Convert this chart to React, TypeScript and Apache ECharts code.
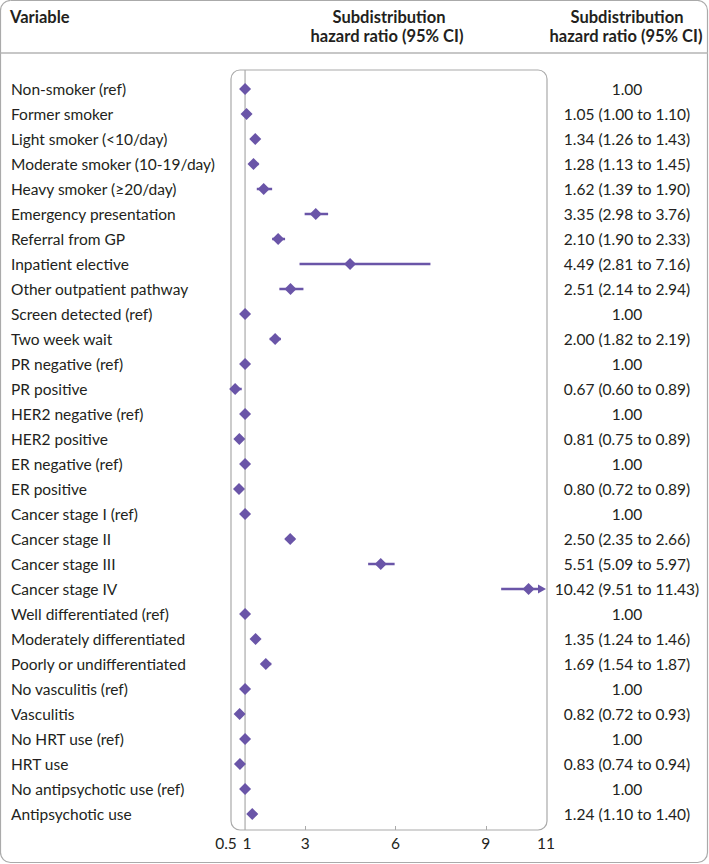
import React, { useEffect, useRef } from "react";
import * as echarts from "echarts";

const variables = [
  "Non-smoker (ref)",
  "Former smoker",
  "Light smoker (<10/day)",
  "Moderate smoker (10-19/day)",
  "Heavy smoker (≥20/day)",
  "Emergency presentation",
  "Referral from GP",
  "Inpatient elective",
  "Other outpatient pathway",
  "Screen detected (ref)",
  "Two week wait",
  "PR negative (ref)",
  "PR positive",
  "HER2 negative (ref)",
  "HER2 positive",
  "ER negative (ref)",
  "ER positive",
  "Cancer stage I (ref)",
  "Cancer stage II",
  "Cancer stage III",
  "Cancer stage IV",
  "Well differentiated (ref)",
  "Moderately differentiated",
  "Poorly or undifferentiated",
  "No vasculitis (ref)",
  "Vasculitis",
  "No HRT use (ref)",
  "HRT use",
  "No antipsychotic use (ref)",
  "Antipsychotic use",
];

const hazardRatio = [
  1.0, 1.05, 1.34, 1.28, 1.62, 3.35, 2.1, 4.49, 2.51, 1.0, 2.0, 1.0, 0.67, 1.0, 0.81, 1.0, 0.8, 1.0, 2.5, 5.51,
  10.42, 1.0, 1.35, 1.69, 1.0, 0.82, 1.0, 0.83, 1.0, 1.24,
];
const lowerCI: (number | null)[] = [
  null, 1.0, 1.26, 1.13, 1.39, 2.98, 1.9, 2.81, 2.14, null, 1.82, null, 0.6, null, 0.75, null, 0.72, null, 2.35,
  5.09, 9.51, null, 1.24, 1.54, null, 0.72, null, 0.74, null, 1.1,
];
const upperCI: (number | null)[] = [
  null, 1.1, 1.43, 1.45, 1.9, 3.76, 2.33, 7.16, 2.94, null, 2.19, null, 0.89, null, 0.89, null, 0.89, null, 2.66,
  5.97, 11.43, null, 1.46, 1.87, null, 0.93, null, 0.94, null, 1.4,
];

const xTickLabels = [0.5, 1, 3, 6, 9, 11];
const xTickMarks = [3, 6, 9];

const fmt = (v: number) => v.toFixed(2);

export default function App() {
  const ref = useRef<HTMLDivElement>(null);
  useEffect(() => {
    if (!ref.current) return;
    const chart = echarts.init(ref.current, null, { renderer: "svg" });
    const PURPLE = "#6a55a8";
    const TEXT = "#231f20";
    const FONT = "Lato";
    const BODY = 15.5;
    const HEAD = 16.5;
    const XMIN = 0.5;
    const XMAX = 11;

    const rightText = hazardRatio.map((h, i) =>
      lowerCI[i] == null ? fmt(h) : `${fmt(h)} (${fmt(lowerCI[i] as number)} to ${fmt(upperCI[i] as number)})`
    );

    const ciData = variables
      .map((_, i) => (lowerCI[i] == null ? null : [lowerCI[i], upperCI[i], i]))
      .filter((d) => d != null);

    const headStyle = (text: string, align: string) => ({
      text,
      font: `bold ${HEAD}px ${FONT}`,
      fill: TEXT,
      textAlign: align,
      textVerticalAlign: "middle",
    });

    const option: any = {
      animation: false,
      grid: { left: 230, right: 163, top: 76.5, bottom: 37.5, containLabel: false },
      xAxis: {
        type: "value",
        min: XMIN,
        max: XMAX,
        offset: 3.5,
        splitLine: { show: false },
        axisLine: { show: false },
        axisTick: {
          show: true,
          customValues: xTickMarks,
          inside: true,
          length: 4,
          lineStyle: { color: "#aaaaaa", width: 1 },
        },
        axisLabel: {
          customValues: xTickLabels,
          showMinLabel: true,
          showMaxLabel: true,
          hideOverlap: false,
          fontSize: BODY,
          fontFamily: FONT,
          color: TEXT,
          margin: 5,
          formatter: (v: number) => (v === 0.5 ? "{l|0.5}" : v === 1 ? "{r|1}" : String(v)),
          rich: {
            l: { fontSize: BODY, fontFamily: FONT, color: TEXT, padding: [0, 8, 0, 0] },
            r: { fontSize: BODY, fontFamily: FONT, color: TEXT, padding: [0, 0, 0, 4] },
          },
        },
      },
      yAxis: [
        {
          type: "category",
          data: variables,
          inverse: true,
          position: "left",
          axisLine: { show: false },
          axisTick: { show: false },
          splitLine: { show: false },
          axisLabel: {
            interval: 0,
            align: "left",
            margin: 219,
            fontSize: BODY,
            fontFamily: FONT,
            color: TEXT,
          },
        },
        {
          type: "category",
          data: rightText,
          inverse: true,
          position: "right",
          axisLine: { show: false },
          axisTick: { show: false },
          splitLine: { show: false },
          axisLabel: {
            interval: 0,
            align: "center",
            margin: 81,
            fontSize: BODY,
            fontFamily: FONT,
            color: TEXT,
          },
        },
      ],
      graphic: [
        {
          type: "rect",
          shape: { x: 0.5, y: 0.5, width: 707, height: 862, r: 10 },
          style: { fill: "none", stroke: "#aaaaaa", lineWidth: 1.2 },
          silent: true,
        },
        {
          type: "line",
          shape: { x1: 0.5, y1: 53, x2: 708, y2: 53 },
          style: { stroke: "#b5b5b5", lineWidth: 1.5 },
          silent: true,
        },
        {
          type: "rect",
          shape: { x: 231, y: 70, width: 316, height: 760, r: 9 },
          style: { fill: "none", stroke: "#aaaaaa", lineWidth: 1.2 },
          silent: true,
        },
        { type: "text", x: 10, y: 17, style: headStyle("Variable", "left") },
        { type: "text", x: 389, y: 17, style: headStyle("Subdistribution", "center") },
        { type: "text", x: 387, y: 36, style: headStyle("hazard ratio (95% CI)", "center") },
        { type: "text", x: 627, y: 17, style: headStyle("Subdistribution", "center") },
        { type: "text", x: 626, y: 36, style: headStyle("hazard ratio (95% CI)", "center") },
      ],
      series: [
        {
          type: "custom",
          name: "CI",
          z: 2,
          clip: false,
          data: ciData,
          renderItem: (params: any, api: any) => {
            const lo = Math.max(api.value(0), XMIN);
            const hiRaw = api.value(1);
            const hi = Math.min(hiRaw, XMAX);
            const row = api.value(2);
            const p1 = api.coord([lo, row]);
            const p2 = api.coord([hi, row]);
            const children: any[] = [];
            const clipped = hiRaw > XMAX;
            const lineEnd = clipped ? p2[0] - 5 : p2[0];
            children.push({
              type: "line",
              shape: { x1: p1[0], y1: p1[1], x2: lineEnd, y2: p2[1] },
              style: { stroke: PURPLE, lineWidth: 2.5 },
            });
            if (clipped) {
              children.push({
                type: "polygon",
                shape: {
                  points: [
                    [p2[0], p2[1]],
                    [p2[0] - 8, p2[1] - 4.5],
                    [p2[0] - 8, p2[1] + 4.5],
                  ],
                },
                style: { fill: PURPLE },
              });
            }
            return { type: "group", children };
          },
        },
        {
          type: "scatter",
          name: "HR",
          z: 3,
          symbol: "diamond",
          symbolSize: 12,
          itemStyle: { color: PURPLE, opacity: 1 },
          data: hazardRatio.map((h, i) => [h, i]),
        },
      ],
    };
    chart.setOption(option);

    const xRef = chart.convertToPixel({ xAxisIndex: 0 }, 1) as number;
    chart.setOption({
      graphic: [
        ...option.graphic,
        {
          type: "line",
          z: 1,
          shape: { x1: xRef, y1: 70, x2: xRef, y2: 830 },
          style: { stroke: "#aaaaaa", lineWidth: 1.2 },
          silent: true,
        },
      ],
    });

    return () => chart.dispose();
  }, []);

  return (
    <div
      ref={ref}
      style={{ position: "absolute", left: 0, top: 0, width: 709, height: 864, background: "#fff" }}
    />
  );
}
